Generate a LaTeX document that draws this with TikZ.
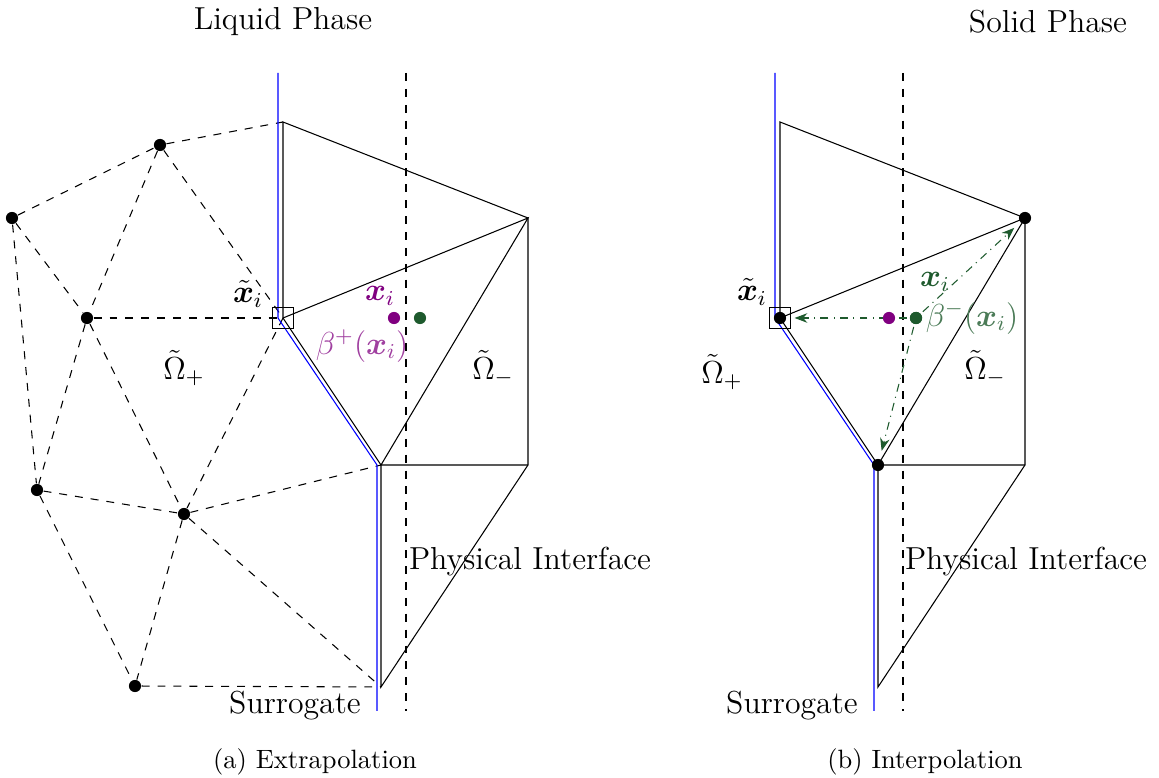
\documentclass[tikz,border=0pt]{standalone}
\usepackage{amsmath,bm}
\usetikzlibrary{arrows.meta}

\definecolor{extpurple}{RGB}{128,0,128}
\definecolor{intgreen}{RGB}{30,90,45}

\begin{document}
\begin{tikzpicture}[x=0.01326cm, y=-0.01326cm, >=Stealth, thin,
		vertex/.style={circle, fill=black, inner sep=0pt, minimum size=4.6pt},
		pbox/.style={draw, minimum size=7.6pt, inner sep=0pt},
		mesh/.style={dashed},
		surr/.style={blue},
		lbl/.style={font=\large},
		transfer/.style={intgreen, dash dot, ->, shorten >=3pt, shorten <=1pt}]
		
		\useasboundingbox (0,0) rectangle (1159,778);
		
		% --- TITULOS DE FASE ---
		\node[lbl] (liquid) at (283,22) {Liquid Phase};
		\node[lbl] (solid) at (1048,22) {Solid Phase};
		
		% --- (a) EXTRAPOLACION ---
		\begin{scope}[name prefix=a-]
			\coordinate (top) at (283,122);
			\coordinate (xt) at (283,318);
			\coordinate (r) at (528,218);
			\coordinate (m) at (381,465);
			\coordinate (mr) at (528,465);
			\coordinate (b) at (381,687);
			
			% Malla del lado liquido
			\node[vertex] (n1) at (160,145) {};
			\node[vertex] (n2) at (12,218) {};
			\node[vertex] (n3) at (87,318) {};
			\node[vertex] (n4) at (37,490) {};
			\node[vertex] (n5) at (184,514) {};
			\node[vertex] (n6) at (135,686) {};
			\foreach \u/\v in {n1/top, n2/n1, n2/n3, n1/n3, n1/xt, n3/xt, n2/n4, n3/n4,
				n3/n5, xt/n5, n4/n5, n4/n6, n5/m, n5/n6, n5/b, n6/b}
				\draw[mesh] (\u) -- (\v);
			
			% Superficie sustituta e interfaz fisica
			\draw[surr] (278,73) -- (278,318) -- (377,465) -- (377,711);
			\draw[dashed] (406,73) -- (406,711);
			
			% Elementos cortados
			\draw (top) -- (xt) -- (m) -- (b) -- (mr) -- (r) -- cycle;
			\draw (xt) -- (r) -- (m) -- (mr);
			\node[pbox] (box) at (xt) {};
			
			% Punto y su extension
			\node[vertex, fill=extpurple] (x) at (394,318) {};
			\node[vertex, fill=intgreen] (xg) at (420,318) {};
			\node[lbl, extpurple] (xlbl) at (380,296) {$\bm{x}_i$};
			\node[lbl, extpurple!75] (beta) at (362,346) {$\beta^{+}(\bm{x}_i)$};
			\node[lbl] (xtlbl) at (248,294) {$\tilde{\bm{x}}_i$};
			\node[lbl] (omp) at (184,368) {$\tilde{\Omega}_{+}$};
			\node[lbl] (omm) at (493,368) {$\tilde{\Omega}_{-}$};
			
			\node[lbl] (iface) at (530,562) {Physical Interface};
			\node[lbl] (surrlbl) at (295,706) {Surrogate};
			\node (cap) at (315,762) {(a) Extrapolation};
		\end{scope}
		
		% --- (b) INTERPOLACION ---
		\begin{scope}[shift={(497,0)}, name prefix=b-]
			\coordinate (top) at (283,122);
			\coordinate (r) at (528,218);
			\coordinate (mr) at (528,465);
			\coordinate (b) at (381,687);
			
			\draw[surr] (278,73) -- (278,318) -- (377,465) -- (377,711);
			\draw[dashed] (406,73) -- (406,711);
			
			\node[vertex] (xt) at (283,318) {};
			\node[vertex] (rv) at (r) {};
			\node[vertex] (m) at (381,465) {};
			\draw (top) -- (xt.center) -- (m.center) -- (b) -- (mr) -- (r) -- cycle;
			\draw (xt.center) -- (r) -- (m.center) -- (mr);
			\node[pbox] (box) at (xt) {};
			
			% Interpolacion desde los vertices
			\node[vertex, fill=intgreen] (xg) at (419,318) {};
			\draw[transfer] (xg) -- (xt);
			\draw[transfer] (xg) -- (rv);
			\draw[transfer] (xg) -- (m);
			\node[vertex, fill=extpurple] (x) at (392,318) {};
			\node[vertex, fill=intgreen] at (xg) {};
			
			\node[lbl, intgreen] (xlbl) at (438,282) {$\bm{x}_i$};
			\node[lbl, intgreen!80] (beta) at (475,318) {$\beta^{-}(\bm{x}_i)$};
			\node[lbl] (xtlbl) at (255,292) {$\tilde{\bm{x}}_i$};
			\node[lbl] (omp) at (225,372) {$\tilde{\Omega}_{+}$};
			\node[lbl] (omm) at (488,368) {$\tilde{\Omega}_{-}$};
			
			\node[lbl] (iface) at (529,562) {Physical Interface};
			\node[lbl] (surrlbl) at (295,706) {Surrogate};
			\node (cap) at (428,762) {(b) Interpolation};
		\end{scope}
		
	\end{tikzpicture}
\end{document}
